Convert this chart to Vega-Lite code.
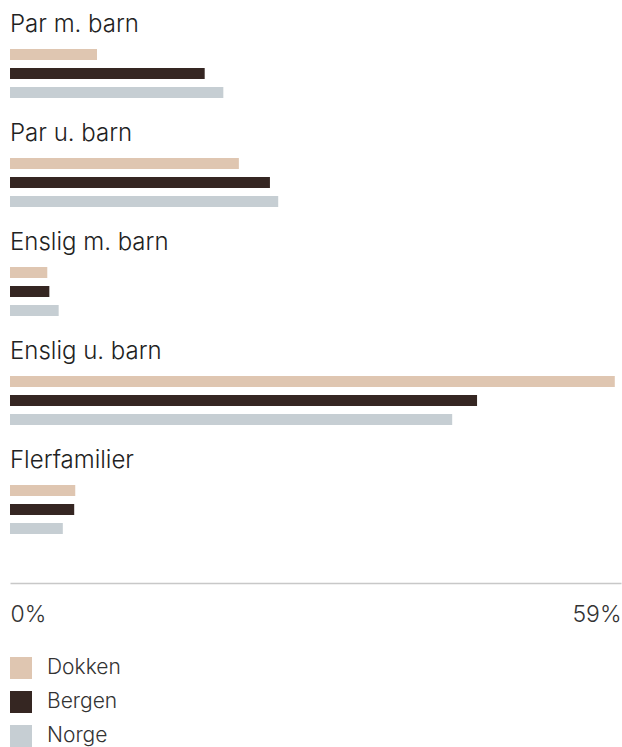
{
  "$schema": "https://vega.github.io/schema/vega-lite/v6.json",
  "autosize": {"type": "none"},
  "width": 611,
  "height": 493,
  "padding": {"left": 10, "top": 45, "right": 1, "bottom": 209},
  "background": "white",
  "config": {
    "view": {"stroke": null},
    "font": "Inter",
    "text": {"font": "Inter"}
  },
  "data": {
    "values": [
      {"category": "Par m. barn", "series": "Dokken", "value": 8.4},
      {"category": "Par m. barn", "series": "Bergen", "value": 18.8},
      {"category": "Par m. barn", "series": "Norge", "value": 20.6},
      {"category": "Par u. barn", "series": "Dokken", "value": 22.1},
      {"category": "Par u. barn", "series": "Bergen", "value": 25.1},
      {"category": "Par u. barn", "series": "Norge", "value": 25.9},
      {"category": "Enslig m. barn", "series": "Dokken", "value": 3.6},
      {"category": "Enslig m. barn", "series": "Bergen", "value": 3.8},
      {"category": "Enslig m. barn", "series": "Norge", "value": 4.7},
      {"category": "Enslig u. barn", "series": "Dokken", "value": 58.4},
      {"category": "Enslig u. barn", "series": "Bergen", "value": 45.1},
      {"category": "Enslig u. barn", "series": "Norge", "value": 42.7},
      {"category": "Flerfamilier", "series": "Dokken", "value": 6.3},
      {"category": "Flerfamilier", "series": "Bergen", "value": 6.2},
      {"category": "Flerfamilier", "series": "Norge", "value": 5.1}
    ]
  },
  "layer": [
    {
      "mark": {"type": "bar", "cornerRadius": 0},
      "encoding": {
        "y": {
          "field": "category", "type": "nominal",
          "sort": ["Par m. barn", "Par u. barn", "Enslig m. barn", "Enslig u. barn", "Flerfamilier"],
          "scale": {"paddingInner": 0.477, "paddingOuter": 0},
          "axis": null
        },
        "yOffset": {
          "field": "series", "type": "nominal",
          "sort": ["Dokken", "Bergen", "Norge"],
          "scale": {"paddingInner": 0.42, "paddingOuter": 0.21}
        },
        "x": {
          "field": "value", "type": "quantitative",
          "scale": {"domain": [0, 59], "nice": false, "zero": true},
          "axis": {
            "values": [0, 59],
            "labelExpr": "datum.value + '%'",
            "labelFlush": true,
            "grid": false,
            "ticks": false,
            "domainColor": "#c8c8c8",
            "domainWidth": 1.5,
            "offset": 45,
            "labelFontSize": 23,
            "labelFont": "Inter",
            "labelFontWeight": 300,
            "labelColor": "#333333",
            "labelPadding": 20,
            "title": null
          }
        },
        "color": {
          "field": "series", "type": "nominal",
          "sort": ["Dokken", "Bergen", "Norge"],
          "scale": {"domain": ["Dokken", "Bergen", "Norge"], "range": ["#dfc6b1", "#352622", "#c6ced3"]},
          "legend": {
            "orient": "none",
            "legendX": 0,
            "legendY": 612,
            "direction": "vertical",
            "title": null,
            "padding": 0,
            "symbolType": "square",
            "symbolSize": 484,
            "symbolStrokeWidth": 0,
            "symbolOpacity": 1,
            "labelFontSize": 21,
            "labelFont": "Inter",
            "labelFontWeight": 300,
            "labelColor": "#333333",
            "labelOffset": 15,
            "rowPadding": 12
          }
        }
      }
    },
    {
      "transform": [{"filter": "datum.series == 'Dokken'"}],
      "mark": {"type": "text", "align": "left", "baseline": "alphabetic", "dy": -13, "fontSize": 24, "fontWeight": 300, "color": "#222222", "font": "Inter"},
      "encoding": {
        "y": {
          "field": "category", "type": "nominal",
          "sort": ["Par m. barn", "Par u. barn", "Enslig m. barn", "Enslig u. barn", "Flerfamilier"],
          "bandPosition": 0
        },
        "x": {"datum": 0},
        "text": {"field": "category"}
      }
    }
  ]
}
